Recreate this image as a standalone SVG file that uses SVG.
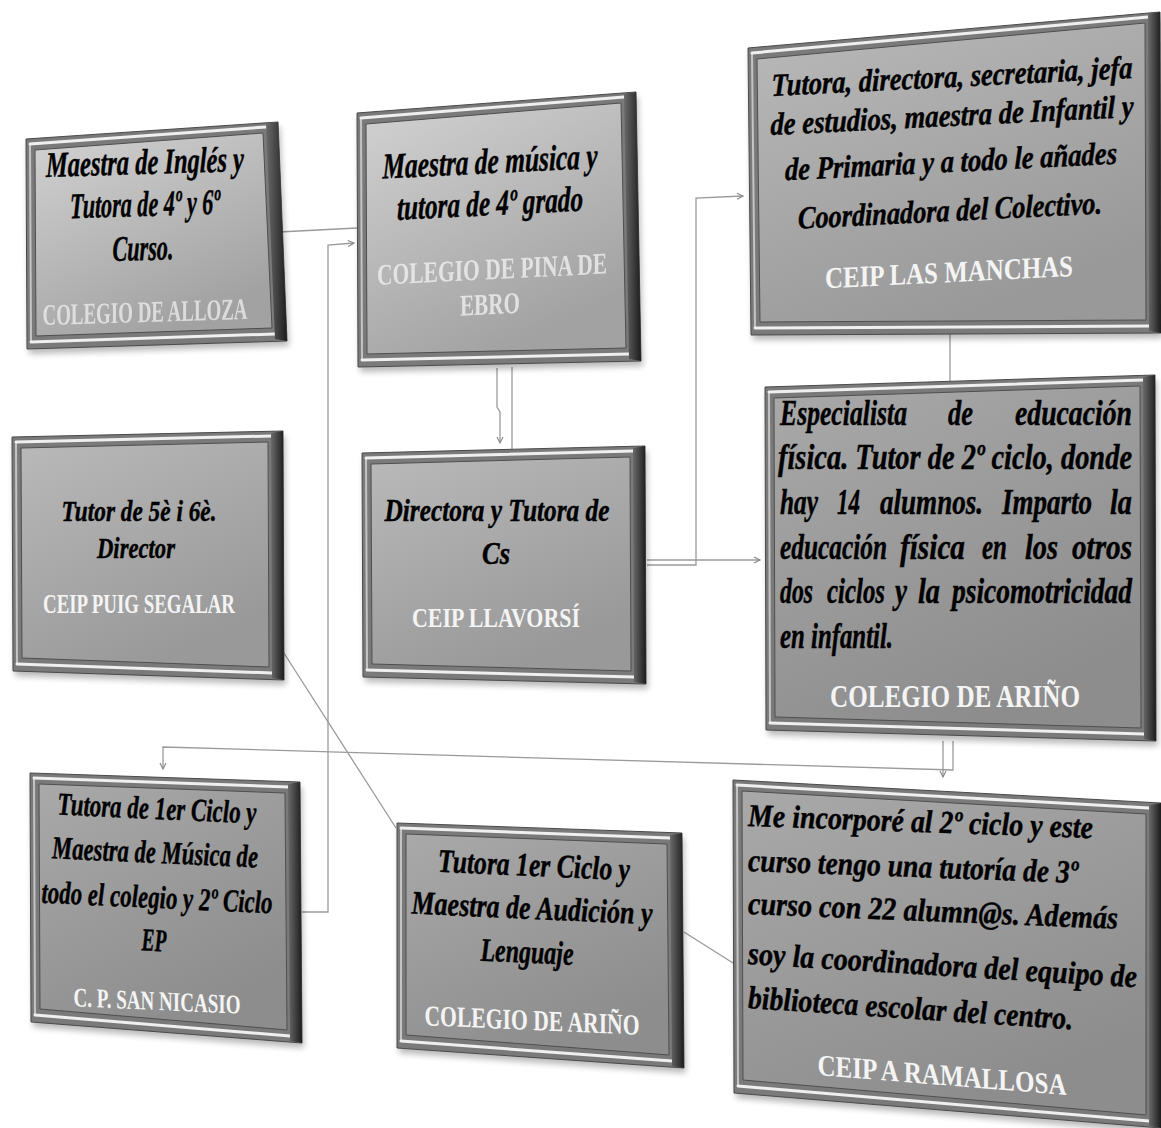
<svg xmlns="http://www.w3.org/2000/svg" width="1161" height="1128" viewBox="0 0 1161 1128">
<defs>
<style>
.t{font-family:"Liberation Serif","Times New Roman",serif;font-weight:bold;font-style:italic;fill:#000;stroke:#000;stroke-width:0.45}
.w{font-family:"Liberation Serif","Times New Roman",serif;font-weight:bold;fill:#f4f4f4}
.frame{fill:#7a7a7a;stroke:#4a4a4a;stroke-width:1}
.hl{fill:none;stroke:#efefef;stroke-width:3;stroke-linecap:round}
.hll{fill:none;stroke:#c4c4c4;stroke-width:2}
.rd{fill:url(#rightEdge)}
.shadow{fill:#000;opacity:.28;filter:url(#blur)}
.pl{fill:url(#panelLight);stroke:#4f4f4f;stroke-width:1}
.pm{fill:url(#panelMid);stroke:#4f4f4f;stroke-width:1}
.pd{fill:url(#panelDark);stroke:#4f4f4f;stroke-width:1}
.c{fill:none;stroke:#9a9a9a;stroke-width:1.3}
.ca{fill:none;stroke:#9a9a9a;stroke-width:1.3;marker-end:url(#arr)}
</style>
<linearGradient id="panelLight" x1="0" y1="0" x2="0.5" y2="1"><stop offset="0" stop-color="#d2d2d2"/><stop offset="1" stop-color="#a2a2a2"/></linearGradient>
<linearGradient id="panelMid" x1="0" y1="0" x2="0.5" y2="1"><stop offset="0" stop-color="#b9b9b9"/><stop offset="1" stop-color="#999999"/></linearGradient>
<linearGradient id="panelDark" x1="0" y1="0" x2="0.5" y2="1"><stop offset="0" stop-color="#a9a9a9"/><stop offset="1" stop-color="#8d8d8d"/></linearGradient>
<linearGradient id="rightEdge" x1="0" y1="0" x2="1" y2="0"><stop offset="0" stop-color="#6a6a6a"/><stop offset="1" stop-color="#1c1c1c"/></linearGradient>
<filter id="blur" x="-10%" y="-10%" width="120%" height="120%"><feGaussianBlur stdDeviation="3"/></filter>
<marker id="arr" markerUnits="userSpaceOnUse" markerWidth="9" markerHeight="9" refX="7" refY="4" orient="auto"><path d="M1,1 L7,4 L1,7" fill="none" stroke="#8a8a8a" stroke-width="1.2"/></marker>
</defs>
<rect width="1161" height="1128" fill="#ffffff"/>

<g id="connectors">
<path class="c" d="M279,232 L357,228"/>
<path class="ca" d="M302,912 L328,912 L328,245 L354,243"/>
<path class="ca" d="M497,368 L497,407 L500,412 L500,443"/>
<path class="c" d="M512,367 L512,451"/>
<path class="ca" d="M647,565 L696,565 L696,198 L743,196"/>
<path class="ca" d="M647,560 L760,560"/>
<path class="c" d="M950,334 L950,381"/>
<path class="ca" d="M953,741 L953,770 L163,747 L163,769"/>
<path class="ca" d="M943,741 L943,777"/>
<path class="c" d="M282,650 L396,828"/>
<path class="c" d="M684,932 L733,963"/>
</g>

<g id="box-alloza">
<polygon class="shadow" points="28,144 280,127 289,346 29,354"/>
<polygon class="frame" points="26,139 278,122 287,341 27,349"/>
<polygon class="pl" points="35,150 263,133 272,328 36,336"/>
<polyline class="hll" points="30,144 31,342"/>
<polyline class="hl" points="30,144 266,127"/>
<polyline class="hl" points="31,342 275,334"/>
<polygon class="rd" points="266,124 278,122 287,341 275,339"/>
<g transform="matrix(1 -0.03 0 1 0 4.35)">
<text class="t" x="145" y="174" font-size="36" text-anchor="middle" textLength="198" lengthAdjust="spacingAndGlyphs">Maestra de Inglés y</text>
<text class="t" x="145" y="216" font-size="36" text-anchor="middle" textLength="150" lengthAdjust="spacingAndGlyphs">Tutora de 4º y 6º</text>
<text class="t" x="143" y="260" font-size="36" text-anchor="middle" textLength="61" lengthAdjust="spacingAndGlyphs">Curso.</text>
<text class="w" x="145" y="322" font-size="30" text-anchor="middle" textLength="205" lengthAdjust="spacingAndGlyphs" opacity="0.7">COLEGIO DE ALLOZA</text>
</g>
</g>

<g id="box-pina">
<polygon class="shadow" points="359,118 638,97 643,366 360,372"/>
<polygon class="frame" points="357,113 636,92 641,361 358,367"/>
<polygon class="pl" points="366,124 621,103 626,348 367,354"/>
<polyline class="hll" points="361,118 362,360"/>
<polyline class="hl" points="361,118 624,97"/>
<polyline class="hl" points="362,360 629,354"/>
<polygon class="rd" points="624,94 636,92 641,361 629,359"/>
<g transform="matrix(1 -0.05 0 1 0 24.75)">
<text class="t" x="490" y="173" font-size="36" text-anchor="middle" textLength="215" lengthAdjust="spacingAndGlyphs">Maestra de música y</text>
<text class="t" x="490" y="215" font-size="36" text-anchor="middle" textLength="186" lengthAdjust="spacingAndGlyphs">tutora de 4º grado</text>
<text class="w" x="492" y="279" font-size="30" text-anchor="middle" textLength="230" lengthAdjust="spacingAndGlyphs" opacity="0.75">COLEGIO DE PINA DE</text>
<text class="w" x="490" y="314" font-size="30" text-anchor="middle" textLength="60" lengthAdjust="spacingAndGlyphs" opacity="0.75">EBRO</text>
</g>
</g>

<g id="box-manchas">
<polygon class="shadow" points="750,53 1162,17 1163,338 753,340"/>
<polygon class="frame" points="748,48 1160,12 1161,333 751,335"/>
<polygon class="pm" points="757,59 1145,23 1146,320 760,322"/>
<polyline class="hll" points="752,53 755,328"/>
<polyline class="hl" points="752,53 1148,17"/>
<polyline class="hl" points="755,328 1149,326"/>
<polygon class="rd" points="1148,14 1160,12 1161,333 1149,331"/>
<g transform="matrix(1 -0.05 0 1 0 47.6)">
<text class="t" x="952" y="87" font-size="32" text-anchor="middle" textLength="361" lengthAdjust="spacingAndGlyphs">Tutora, directora,  secretaria, jefa</text>
<text class="t" x="952" y="126" font-size="32" text-anchor="middle" textLength="363" lengthAdjust="spacingAndGlyphs">de estudios, maestra de Infantil y</text>
<text class="t" x="951" y="172" font-size="32" text-anchor="middle" textLength="332" lengthAdjust="spacingAndGlyphs">de Primaria y a todo le añades</text>
<text class="t" x="950" y="221" font-size="32" text-anchor="middle" textLength="304" lengthAdjust="spacingAndGlyphs">Coordinadora  del Colectivo.</text>
<text class="w" x="949" y="282" font-size="30" text-anchor="middle" textLength="248" lengthAdjust="spacingAndGlyphs">CEIP LAS MANCHAS</text>
</g>
</g>

<g id="box-arino-1">
<polygon class="shadow" points="767,392 1157,380 1158,746 768,735"/>
<polygon class="frame" points="765,387 1155,375 1156,741 766,730"/>
<polygon class="pd" points="774,398 1140,386 1141,728 775,717"/>
<polyline class="hll" points="769,392 770,723"/>
<polyline class="hl" points="769,392 1143,380"/>
<polyline class="hl" points="770,723 1144,734"/>
<polygon class="rd" points="1143,377 1155,375 1156,741 1144,739"/>
<g font-size="35">
<text class="t" x="780" y="425" textLength="127" lengthAdjust="spacingAndGlyphs">Especialista</text>
<text class="t" x="948" y="425" textLength="25" lengthAdjust="spacingAndGlyphs">de</text>
<text class="t" x="1015" y="425" textLength="117" lengthAdjust="spacingAndGlyphs">educación</text>
<text class="t" x="778" y="469" textLength="354" lengthAdjust="spacingAndGlyphs">física. Tutor de 2º ciclo, donde</text>
<text class="t" x="780" y="514" textLength="38" lengthAdjust="spacingAndGlyphs">hay</text>
<text class="t" x="837" y="514" textLength="23" lengthAdjust="spacingAndGlyphs">14</text>
<text class="t" x="880" y="514" textLength="103" lengthAdjust="spacingAndGlyphs">alumnos.</text>
<text class="t" x="1002" y="514" textLength="90" lengthAdjust="spacingAndGlyphs">Imparto</text>
<text class="t" x="1110" y="514" textLength="22" lengthAdjust="spacingAndGlyphs">la</text>
<text class="t" x="780" y="559" textLength="107" lengthAdjust="spacingAndGlyphs">educación</text>
<text class="t" x="900" y="559" textLength="65" lengthAdjust="spacingAndGlyphs">física</text>
<text class="t" x="982" y="559" textLength="25" lengthAdjust="spacingAndGlyphs">en</text>
<text class="t" x="1025" y="559" textLength="33" lengthAdjust="spacingAndGlyphs">los</text>
<text class="t" x="1072" y="559" textLength="60" lengthAdjust="spacingAndGlyphs">otros</text>
<text class="t" x="780" y="603" textLength="33" lengthAdjust="spacingAndGlyphs">dos</text>
<text class="t" x="827" y="603" textLength="58" lengthAdjust="spacingAndGlyphs">ciclos</text>
<text class="t" x="895" y="603" textLength="12" lengthAdjust="spacingAndGlyphs">y</text>
<text class="t" x="918" y="603" textLength="22" lengthAdjust="spacingAndGlyphs">la</text>
<text class="t" x="952" y="603" textLength="180" lengthAdjust="spacingAndGlyphs">psicomotricidad</text>
<text class="t" x="780" y="648" textLength="113" lengthAdjust="spacingAndGlyphs">en infantil.</text>
</g>
<text class="w" x="955" y="707" font-size="32" text-anchor="middle" textLength="250" lengthAdjust="spacingAndGlyphs">COLEGIO DE ARIÑO</text>
</g>

<g id="box-puig">
<polygon class="shadow" points="14,442 285,436 286,685 15,676"/>
<polygon class="frame" points="12,437 283,431 284,680 13,671"/>
<polygon class="pm" points="21,448 268,442 269,667 22,658"/>
<polyline class="hll" points="16,442 17,664"/>
<polyline class="hl" points="16,442 271,436"/>
<polyline class="hl" points="17,664 272,673"/>
<polygon class="rd" points="271,433 283,431 284,680 272,678"/>
<text class="t" x="139" y="521" font-size="30" text-anchor="middle" textLength="155" lengthAdjust="spacingAndGlyphs">Tutor de 5è i 6è.</text>
<text class="t" x="136" y="558" font-size="30" text-anchor="middle" textLength="78" lengthAdjust="spacingAndGlyphs">Director</text>
<text class="w" x="139" y="613" font-size="27" text-anchor="middle" textLength="192" lengthAdjust="spacingAndGlyphs">CEIP PUIG SEGALAR</text>
</g>

<g id="box-llavorsi">
<polygon class="shadow" points="364,458 647,451 648,689 365,682"/>
<polygon class="frame" points="362,453 645,446 646,684 363,677"/>
<polygon class="pm" points="371,464 630,457 631,671 372,664"/>
<polyline class="hll" points="366,458 367,670"/>
<polyline class="hl" points="366,458 633,451"/>
<polyline class="hl" points="367,670 634,677"/>
<polygon class="rd" points="633,448 645,446 646,684 634,682"/>
<text class="t" x="497" y="521" font-size="31" text-anchor="middle" textLength="225" lengthAdjust="spacingAndGlyphs">Directora y Tutora de</text>
<text class="t" x="496" y="564" font-size="31" text-anchor="middle" textLength="28" lengthAdjust="spacingAndGlyphs">Cs</text>
<text class="w" x="496" y="627" font-size="28" text-anchor="middle" textLength="168" lengthAdjust="spacingAndGlyphs">CEIP LLAVORSÍ</text>
</g>

<g id="box-san-nicasio">
<polygon class="shadow" points="32,778 302,787 304,1048 33,1027"/>
<polygon class="frame" points="30,773 300,782 302,1043 31,1022"/>
<polygon class="pd" points="39,784 285,793 287,1030 40,1009"/>
<polyline class="hll" points="34,778 35,1015"/>
<polyline class="hl" points="34,778 288,787"/>
<polyline class="hl" points="35,1015 290,1036"/>
<polygon class="rd" points="288,784 300,782 302,1043 290,1041"/>
<g transform="matrix(1 0.045 0 1 0 -7.065)">
<text class="t" x="157" y="819" font-size="32" text-anchor="middle" textLength="199" lengthAdjust="spacingAndGlyphs">Tutora de 1er Ciclo y</text>
<text class="t" x="155" y="863" font-size="32" text-anchor="middle" textLength="206" lengthAdjust="spacingAndGlyphs">Maestra de Música de</text>
<text class="t" x="157" y="908" font-size="32" text-anchor="middle" textLength="231" lengthAdjust="spacingAndGlyphs">todo el colegio y 2º Ciclo</text>
<text class="t" x="154" y="951" font-size="32" text-anchor="middle" textLength="25" lengthAdjust="spacingAndGlyphs">EP</text>
<text class="w" x="157" y="1010" font-size="27" text-anchor="middle" textLength="167" lengthAdjust="spacingAndGlyphs">C. P. SAN NICASIO</text>
</g>
</g>

<g id="box-arino-2">
<polygon class="shadow" points="399,828 684,838 686,1073 399,1053"/>
<polygon class="frame" points="397,823 682,833 684,1068 397,1048"/>
<polygon class="pd" points="406,834 667,844 669,1055 406,1035"/>
<polyline class="hll" points="401,828 401,1041"/>
<polyline class="hl" points="401,828 670,838"/>
<polyline class="hl" points="401,1041 672,1061"/>
<polygon class="rd" points="670,835 682,833 684,1068 672,1066"/>
<g transform="matrix(1 0.045 0 1 0 -23.94)">
<text class="t" x="534" y="876" font-size="33" text-anchor="middle" textLength="192" lengthAdjust="spacingAndGlyphs">Tutora 1er Ciclo y</text>
<text class="t" x="532" y="919" font-size="33" text-anchor="middle" textLength="241" lengthAdjust="spacingAndGlyphs">Maestra de Audición y</text>
<text class="t" x="527" y="963" font-size="33" text-anchor="middle" textLength="93" lengthAdjust="spacingAndGlyphs">Lenguaje</text>
<text class="w" x="532" y="1030" font-size="29" text-anchor="middle" textLength="215" lengthAdjust="spacingAndGlyphs">COLEGIO DE ARIÑO</text>
</g>
</g>

<g id="box-ramallosa">
<polygon class="shadow" points="735,785 1163,808 1163,1133 736,1098"/>
<polygon class="frame" points="733,780 1161,803 1161,1128 734,1093"/>
<polygon class="pd" points="742,791 1146,814 1146,1115 743,1080"/>
<polyline class="hll" points="737,785 738,1086"/>
<polyline class="hl" points="737,785 1149,808"/>
<polyline class="hl" points="738,1086 1149,1121"/>
<polygon class="rd" points="1149,805 1161,803 1161,1128 1149,1126"/>
<text class="t" x="748" y="826" font-size="32" textLength="345" lengthAdjust="spacingAndGlyphs" transform="matrix(1 0.035 0 1 0 -26.18)">Me incorporé al 2º ciclo y este</text>
<text class="t" x="748" y="871" font-size="32" textLength="330" lengthAdjust="spacingAndGlyphs" transform="matrix(1 0.036 0 1 0 -26.93)">curso tengo una tutoría de 3º</text>
<text class="t" x="748" y="914" font-size="32" textLength="370" lengthAdjust="spacingAndGlyphs" transform="matrix(1 0.04 0 1 0 -29.92)">curso con 22 alumn@s. Además</text>
<text class="t" x="748" y="964" font-size="32" textLength="389" lengthAdjust="spacingAndGlyphs" transform="matrix(1 0.06 0 1 0 -44.88)">soy la coordinadora del equipo de</text>
<text class="t" x="748" y="1008" font-size="32" textLength="325" lengthAdjust="spacingAndGlyphs" transform="matrix(1 0.066 0 1 0 -49.37)">biblioteca escolar del centro.</text>
<text class="w" x="942" y="1085" font-size="30" text-anchor="middle" textLength="249" lengthAdjust="spacingAndGlyphs" transform="matrix(1 0.08 0 1 0 -75.36)">CEIP A RAMALLOSA</text>
</g>
</svg>
